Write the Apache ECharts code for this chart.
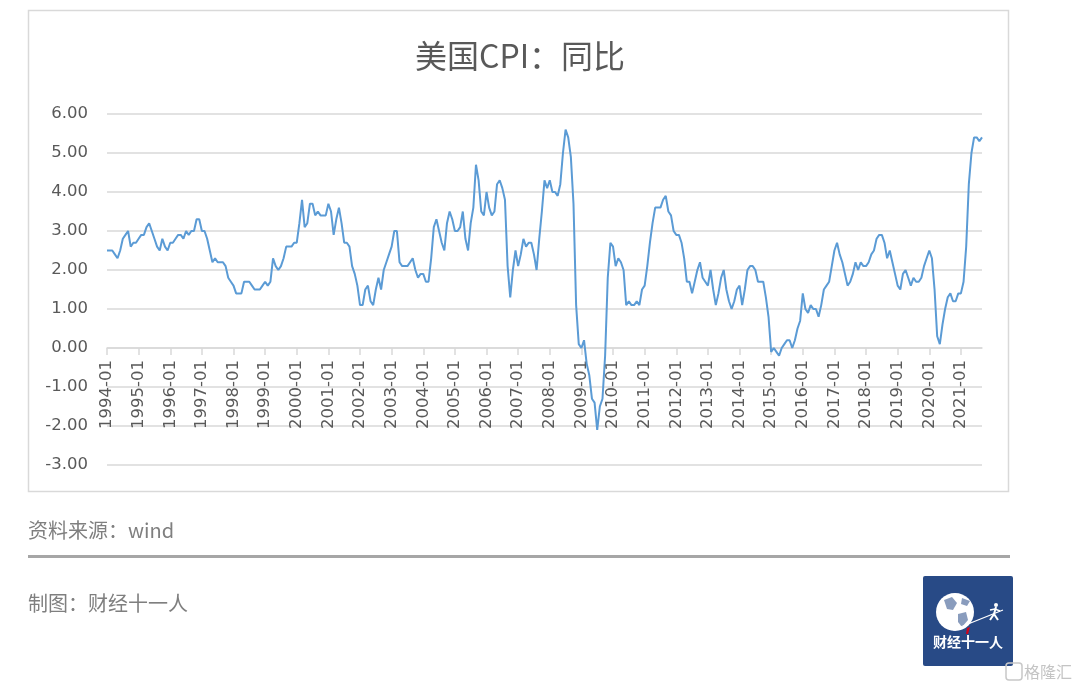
<!DOCTYPE html>
<html>
<head>
<meta charset="utf-8">
<script src="https://cdn.jsdelivr.net/npm/echarts@6/dist/echarts.min.js"></script>
<style>
html,body{margin:0;padding:0;background:#fff;}
#c{width:1080px;height:689px;}
</style>
</head>
<body>
<div id="c"></div>
<script>
// ---- data: US CPI YoY (%) monthly, 1994-01 .. 2021-09 ----
const y1994 = [2.5, 2.5, 2.5, 2.4, 2.3, 2.5, 2.8, 2.9, 3.0, 2.6, 2.7, 2.7];
const y1995 = [2.8, 2.9, 2.9, 3.1, 3.2, 3.0, 2.8, 2.6, 2.5, 2.8, 2.6, 2.5];
const y1996 = [2.7, 2.7, 2.8, 2.9, 2.9, 2.8, 3.0, 2.9, 3.0, 3.0, 3.3, 3.3];
const y1997 = [3.0, 3.0, 2.8, 2.5, 2.2, 2.3, 2.2, 2.2, 2.2, 2.1, 1.8, 1.7];
const y1998 = [1.6, 1.4, 1.4, 1.4, 1.7, 1.7, 1.7, 1.6, 1.5, 1.5, 1.5, 1.6];
const y1999 = [1.7, 1.6, 1.7, 2.3, 2.1, 2.0, 2.1, 2.3, 2.6, 2.6, 2.6, 2.7];
const y2000 = [2.7, 3.2, 3.8, 3.1, 3.2, 3.7, 3.7, 3.4, 3.5, 3.4, 3.4, 3.4];
const y2001 = [3.7, 3.5, 2.9, 3.3, 3.6, 3.2, 2.7, 2.7, 2.6, 2.1, 1.9, 1.6];
const y2002 = [1.1, 1.1, 1.5, 1.6, 1.2, 1.1, 1.5, 1.8, 1.5, 2.0, 2.2, 2.4];
const y2003 = [2.6, 3.0, 3.0, 2.2, 2.1, 2.1, 2.1, 2.2, 2.3, 2.0, 1.8, 1.9];
const y2004 = [1.9, 1.7, 1.7, 2.3, 3.1, 3.3, 3.0, 2.7, 2.5, 3.2, 3.5, 3.3];
const y2005 = [3.0, 3.0, 3.1, 3.5, 2.8, 2.5, 3.2, 3.6, 4.7, 4.3, 3.5, 3.4];
const y2006 = [4.0, 3.6, 3.4, 3.5, 4.2, 4.3, 4.1, 3.8, 2.1, 1.3, 2.0, 2.5];
const y2007 = [2.1, 2.4, 2.8, 2.6, 2.7, 2.7, 2.4, 2.0, 2.8, 3.5, 4.3, 4.1];
const y2008 = [4.3, 4.0, 4.0, 3.9, 4.2, 5.0, 5.6, 5.4, 4.9, 3.7, 1.1, 0.1];
const y2009 = [0.0, 0.2, -0.4, -0.7, -1.3, -1.4, -2.1, -1.5, -1.3, -0.2, 1.8, 2.7];
const y2010 = [2.6, 2.1, 2.3, 2.2, 2.0, 1.1, 1.2, 1.1, 1.1, 1.2, 1.1, 1.5];
const y2011 = [1.6, 2.1, 2.7, 3.2, 3.6, 3.6, 3.6, 3.8, 3.9, 3.5, 3.4, 3.0];
const y2012 = [2.9, 2.9, 2.7, 2.3, 1.7, 1.7, 1.4, 1.7, 2.0, 2.2, 1.8, 1.7];
const y2013 = [1.6, 2.0, 1.5, 1.1, 1.4, 1.8, 2.0, 1.5, 1.2, 1.0, 1.2, 1.5];
const y2014 = [1.6, 1.1, 1.5, 2.0, 2.1, 2.1, 2.0, 1.7, 1.7, 1.7, 1.3, 0.8];
const y2015 = [-0.1, 0.0, -0.1, -0.2, 0.0, 0.1, 0.2, 0.2, 0.0, 0.2, 0.5, 0.7];
const y2016 = [1.4, 1.0, 0.9, 1.1, 1.0, 1.0, 0.8, 1.1, 1.5, 1.6, 1.7, 2.1];
const y2017 = [2.5, 2.7, 2.4, 2.2, 1.9, 1.6, 1.7, 1.9, 2.2, 2.0, 2.2, 2.1];
const y2018 = [2.1, 2.2, 2.4, 2.5, 2.8, 2.9, 2.9, 2.7, 2.3, 2.5, 2.2, 1.9];
const y2019 = [1.6, 1.5, 1.9, 2.0, 1.8, 1.6, 1.8, 1.7, 1.7, 1.8, 2.1, 2.3];
const y2020 = [2.5, 2.3, 1.5, 0.3, 0.1, 0.6, 1.0, 1.3, 1.4, 1.2, 1.2, 1.4];
const y2021 = [1.4, 1.7, 2.6, 4.2, 5.0, 5.4, 5.4, 5.3, 5.4];

const yearly = [y1994,y1995,y1996,y1997,y1998,y1999,y2000,y2001,y2002,y2003,y2004,y2005,y2006,y2007,
  y2008,y2009,y2010,y2011,y2012,y2013,y2014,y2015,y2016,y2017,y2018,y2019,y2020,y2021];
const startYear = 1994;

const categories = [];
const values = [];
yearly.forEach((arr, i) => {
  arr.forEach((v, m) => {
    categories.push((startYear + i) + '-' + String(m + 1).padStart(2, '0'));
    values.push(v);
  });
});

const titleText = '美国CPI：同比';
const sourceText = '资料来源：wind';
const makerText = '制图：财经十一人';
const logoText = '财经十一人';
const yMin = -3, yMax = 6, yStep = 1;

const gridTop = 114, gridBottom = 224, chartH = 689;
const gridH = chartH - gridTop - gridBottom;
// place the category axis where the value axis crosses zero (as in the original)
const xAxisOffset = -((0 - yMin) / (yMax - yMin)) * gridH;

const chart = echarts.init(document.getElementById('c'), null, {renderer: 'canvas'});
const grey = '#595959';
const numFont = '"DejaVu Sans", "Liberation Sans", sans-serif';
const cjkFont = '"Noto Sans CJK SC", sans-serif';
const blue = '#284a86';

chart.setOption({
  backgroundColor: '#ffffff',
  animation: false,
  title: {
    text: titleText,
    left: 415,
    top: 40,
    padding: 0,
    textStyle: {fontFamily: cjkFont, fontSize: 32, fontWeight: 'normal', color: grey}
  },
  grid: {left: 107, right: 98, top: gridTop, bottom: gridBottom, containLabel: false},
  xAxis: {
    type: 'category',
    boundaryGap: false,
    data: categories,
    offset: xAxisOffset,
    axisLine: {show: true, onZero: false, lineStyle: {color: '#d9d9d9', width: 1.5}},
    axisTick: {show: true, interval: 11, length: 7, lineStyle: {color: '#d9d9d9', width: 1.5}},
    axisLabel: {interval: 11, rotate: 90, margin: 12, color: grey, fontSize: 16.5, fontFamily: numFont},
    splitLine: {show: false}
  },
  yAxis: {
    type: 'value',
    min: yMin, max: yMax, interval: yStep,
    axisLine: {show: false},
    axisTick: {show: false},
    axisLabel: {formatter: v => v.toFixed(2), color: grey, fontSize: 16.5, fontFamily: numFont, margin: 19},
    splitLine: {lineStyle: {color: '#d9d9d9', width: 1.5}}
  },
  series: [{
    type: 'line',
    data: values,
    showSymbol: false,
    symbol: 'none',
    smooth: false,
    lineStyle: {color: '#5b9bd5', width: 2},
    itemStyle: {color: '#5b9bd5'},
    z: 3
  }],
  graphic: [
    {type: 'rect', shape: {x: 28.5, y: 10.5, width: 980, height: 481}, style: {fill: 'none', stroke: '#d9d9d9', lineWidth: 1.5}, z: -1},
    {type: 'text', x: 28, y: 530, style: {text: sourceText, fill: '#7f7f7f', font: '20px "Noto Sans CJK SC", sans-serif', textVerticalAlign: 'middle'}},
    {type: 'rect', shape: {x: 28, y: 555, width: 982, height: 3}, style: {fill: '#a6a6a6'}},
    {type: 'text', x: 28, y: 603, style: {text: makerText, fill: '#7f7f7f', font: '20px "Noto Sans CJK SC", sans-serif', textVerticalAlign: 'middle'}},
    // logo
    {type: 'rect', shape: {x: 923, y: 576, width: 90, height: 90, r: 2}, style: {fill: blue}},
    {type: 'circle', shape: {cx: 955, cy: 612, r: 19}, style: {fill: '#ffffff'}},
    {type: 'polygon', shape: {points: [[944,600],[952,597],[957,603],[953,610],[947,609]]}, style: {fill: blue, opacity: 0.55}},
    {type: 'polygon', shape: {points: [[958,614],[966,612],[968,620],[962,627],[958,622]]}, style: {fill: blue, opacity: 0.55}},
    {type: 'polygon', shape: {points: [[962,598],[970,601],[967,606],[961,604]]}, style: {fill: blue, opacity: 0.55}},
    {type: 'line', shape: {x1: 953, y1: 630, x2: 1003, y2: 610}, style: {stroke: '#ffffff', lineWidth: 1.2}},
    {type: 'polygon', shape: {points: [[967,628],[970,627],[968,634],[966,634]]}, style: {fill: '#d0021b'}},
    {type: 'circle', shape: {cx: 996, cy: 605, r: 2}, style: {fill: '#ffffff'}},
    {type: 'polyline', shape: {points: [[996,607],[994,614],[990,620]]}, style: {stroke: '#ffffff', lineWidth: 2}},
    {type: 'polyline', shape: {points: [[994,614],[998,620]]}, style: {stroke: '#ffffff', lineWidth: 2}},
    {type: 'polyline', shape: {points: [[990,610],[995,609],[1000,611]]}, style: {stroke: '#ffffff', lineWidth: 1.5}},
    {type: 'text', x: 968, y: 642, style: {text: logoText, fill: '#ffffff', font: 'bold 14px "Noto Sans CJK SC", sans-serif', textAlign: 'center', textVerticalAlign: 'middle'}},
    // watermark
    {type: 'rect', shape: {x: 1006, y: 663, width: 16, height: 17, r: 3}, style: {fill: 'none', stroke: '#c8c8c8', lineWidth: 1.5}},
    {type: 'text', x: 1024, y: 672, style: {text: '格隆汇', fill: '#c4c4c4', font: '16px "Noto Sans CJK SC", sans-serif', textVerticalAlign: 'middle'}}
  ]
});
</script>
</body>
</html>
